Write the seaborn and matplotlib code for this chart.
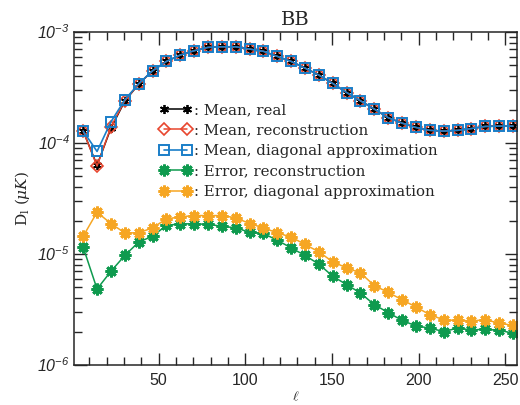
import numpy as np
import pandas as pd
import matplotlib
matplotlib.use("Agg")
import matplotlib.pyplot as plt
from matplotlib.ticker import FixedLocator, FixedFormatter
import seaborn as sns

# multipole bin centres
ell = [6.5, 14.5, 22.5, 30.5, 38.5, 46.5, 54.5, 62.5, 70.5, 78.5, 86.5, 94.5,
       102.5, 110.5, 118.5, 126.5, 134.5, 142.5, 150.5, 158.5, 166.5, 174.5,
       182.5, 190.5, 198.5, 206.5, 214.5, 222.5, 230.5, 238.5, 246.5, 254.5]

mean_real = [1.28e-4, 6.3e-5, 1.36e-4, 2.38e-4, 3.39e-4, 4.47e-4, 5.43e-4, 6.2e-4,
             6.78e-4, 7.27e-4, 7.36e-4, 7.36e-4, 7.02e-4, 6.7e-4, 6.03e-4, 5.43e-4,
             4.73e-4, 4.09e-4, 3.44e-4, 2.85e-4, 2.40e-4, 2.02e-4, 1.69e-4, 1.51e-4,
             1.38e-4, 1.30e-4, 1.28e-4, 1.30e-4, 1.35e-4, 1.41e-4, 1.42e-4, 1.42e-4]
mean_rec = [1.28e-4, 6.2e-5, 1.40e-4, 2.40e-4, 3.39e-4, 4.47e-4, 5.43e-4, 6.2e-4,
            6.78e-4, 7.27e-4, 7.36e-4, 7.36e-4, 7.02e-4, 6.7e-4, 6.03e-4, 5.43e-4,
            4.73e-4, 4.09e-4, 3.44e-4, 2.85e-4, 2.40e-4, 2.02e-4, 1.69e-4, 1.51e-4,
            1.38e-4, 1.30e-4, 1.28e-4, 1.30e-4, 1.35e-4, 1.41e-4, 1.42e-4, 1.42e-4]
mean_diag = [1.28e-4, 8.4e-5, 1.55e-4, 2.45e-4, 3.42e-4, 4.47e-4, 5.43e-4, 6.2e-4,
             6.78e-4, 7.27e-4, 7.36e-4, 7.36e-4, 7.02e-4, 6.7e-4, 6.03e-4, 5.43e-4,
             4.73e-4, 4.09e-4, 3.44e-4, 2.85e-4, 2.40e-4, 2.02e-4, 1.69e-4, 1.51e-4,
             1.38e-4, 1.30e-4, 1.28e-4, 1.30e-4, 1.35e-4, 1.41e-4, 1.42e-4, 1.42e-4]
err_rec = [1.15e-5, 4.84e-6, 6.98e-6, 9.7e-6, 1.28e-5, 1.445e-5, 1.81e-5, 1.87e-5,
           1.87e-5, 1.85e-5, 1.78e-5, 1.72e-5, 1.57e-5, 1.53e-5, 1.33e-5, 1.135e-5,
           9.7e-6, 8.1e-6, 6.3e-6, 5.3e-6, 4.45e-6, 3.49e-6, 2.97e-6, 2.52e-6,
           2.25e-6, 2.15e-6, 2.0e-6, 2.15e-6, 2.07e-6, 2.1e-6, 2.05e-6, 1.94e-6]
err_diag = [1.445e-5, 2.38e-5, 1.88e-5, 1.55e-5, 1.55e-5, 1.72e-5, 2.07e-5, 2.16e-5,
            2.22e-5, 2.22e-5, 2.22e-5, 2.12e-5, 1.88e-5, 1.72e-5, 1.55e-5, 1.42e-5,
            1.22e-5, 1.045e-5, 8.5e-6, 7.5e-6, 6.75e-6, 5.19e-6, 4.51e-6, 3.87e-6,
            3.33e-6, 2.84e-6, 2.55e-6, 2.52e-6, 2.5e-6, 2.55e-6, 2.39e-6, 2.27e-6]

labels = [": Mean, real", ": Mean, reconstruction", ": Mean, diagonal approximation",
          ": Error, reconstruction", ": Error, diagonal approximation"]
xticks = [50, 100, 150, 200, 250]
yticks = [1e-6, 1e-5, 1e-4, 1e-3]
ytick_labels = [r"$\mathsf{10^{-6}}$", r"$\mathsf{10^{-5}}$", r"$\mathsf{10^{-4}}$", r"$\mathsf{10^{-3}}$"]

sns.set_style("ticks")
plt.rcParams["font.family"] = ["DejaVu Serif"]
plt.rcParams["mathtext.fontset"] = "custom"
plt.rcParams["mathtext.rm"] = "DejaVu Serif"
plt.rcParams["mathtext.it"] = "DejaVu Serif:italic"
plt.rcParams["mathtext.sf"] = "Liberation Sans:italic"

fig = plt.figure(figsize=(5.2, 4.05), dpi=100)
ax = fig.add_axes([74 / 520, 1 - 365 / 405, (517 - 74) / 520, (365 - 32) / 405])

ast6 = (6, 2, 0)
ast8 = (8, 2, 0)
styles = [
    dict(color="black", marker=ast6, markersize=6.5, mew=1.3, mfc="black", mec="black", lw=1.1),
    dict(color="#E8462E", marker="D", markersize=6.0, mew=1.2, mfc="none", mec="#E8462E", lw=1.1),
    dict(color="#1A7EC8", marker="s", markersize=7.0, mew=1.4, mfc="none", mec="#1A7EC8", lw=1.2),
    dict(color="#0E9A4E", marker=ast8, markersize=8.5, mew=2.0, mec="#0E9A4E", lw=1.1),
    dict(color="#F6A623", marker=ast8, markersize=8.5, mew=2.0, mec="#F6A623", lw=1.1),
]
series = [mean_real, mean_rec, mean_diag, err_rec, err_diag]

for vals, lab, st in zip(series, labels, styles):
    df = pd.DataFrame({"ell": ell, "D": vals})
    sns.lineplot(data=df, x="ell", y="D", ax=ax, label=lab, **st)

ax.set_yscale("log")
ax.set_xlim(1.2, 256.8)
ax.set_ylim(1e-6, 1e-3)
ax.set_xticks(xticks)
ax.set_xticks(np.arange(10, 256, 10), minor=True)
ax.yaxis.set_major_locator(FixedLocator(yticks))
ax.yaxis.set_major_formatter(FixedFormatter(ytick_labels))
ax.tick_params(which="both", direction="in", top=True, right=True, labelsize=11.5)
ax.tick_params(which="major", length=9, width=1)
ax.tick_params(which="minor", length=5.5, width=1)
ax.tick_params(axis="x", which="major", pad=6)
ax.tick_params(axis="y", which="major", pad=3)
for t in ax.get_xticklabels():
    t.set_fontfamily("Liberation Sans")
for s in ax.spines.values():
    s.set_linewidth(1.1)

ax.set_xlabel(r"$\ell$", fontsize=10, labelpad=1)
ax.set_ylabel(r"D$_\mathrm{l}$ ($\mu K$)", fontsize=11, labelpad=4)
ax.set_title("BB", fontsize=14, pad=5)

leg = ax.legend(loc="upper left", bbox_to_anchor=(0.18, 0.805), frameon=False,
                numpoints=2, handlelength=2.1, handletextpad=0.2,
                labelspacing=0.44, fontsize=10.8, borderaxespad=0)

fig.savefig("out.png", dpi=100)
